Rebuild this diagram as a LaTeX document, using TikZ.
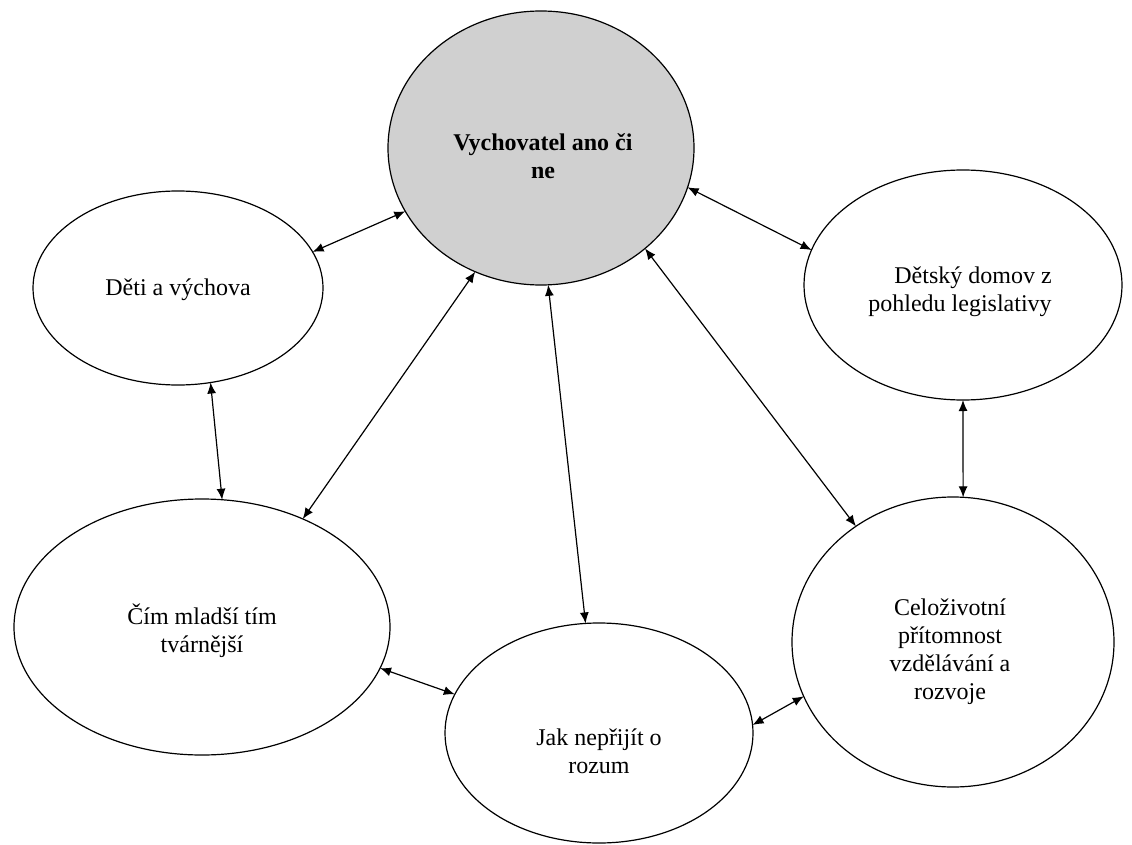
\documentclass[tikz,border=0pt]{standalone}
\usepackage{fontspec}
\setmainfont{Liberation Serif}
\usetikzlibrary{arrows.meta,shapes.geometric}
\definecolor{centralgray}{RGB}{208,208,208}
\tikzset{
  ell/.style={draw=black, line width=1.2pt, ellipse, inner sep=0pt, outer sep=0pt, fill=white},
  txt/.style={align=center, font=\fontsize{24}{28}\selectfont, inner sep=0pt},
  link/.style={{Latex[length=11pt,width=9pt]}-{Latex[length=11pt,width=9pt]}, line width=1.2pt, shorten <=0pt, shorten >=0pt}
}
\begin{document}
\begin{tikzpicture}[x=1pt,y=-1pt]
\useasboundingbox (0,0) rectangle (1132,845);
\fill[white] (0,0) rectangle (1132,845);
% ellipses
\node[ell, fill=centralgray, minimum width=306pt, minimum height=274pt] (central) at (541,148) {};
\node[ell, minimum width=290pt, minimum height=194pt] (deti) at (178,288) {};
\node[ell, minimum width=318pt, minimum height=230pt] (domov) at (963,285) {};
\node[ell, minimum width=376pt, minimum height=256pt] (cim) at (202,627) {};
\node[ell, minimum width=308pt, minimum height=220pt] (jak) at (599,733) {};
\node[ell, minimum width=322pt, minimum height=290pt] (celo) at (953,642) {};
% texts
\node[txt, font=\fontsize{24}{28}\selectfont\bfseries] (tcentral) at (543,156) {Vychovatel ano či\\ne};
\node[txt] (tdeti) at (178,290) {Děti a výchova};
\node[txt, align=right] (tdomov) at (960,292) {Dětský domov z\\pohledu legislativy};
\node[txt] (tcim) at (202,631) {Čím mladší tím\\tvárnější};
\node[txt] (tjak) at (599,751) {Jak nepřijít o\\rozum};
\node[txt] (tcelo) at (950,652) {Celoživotní\\přítomnost\\vzdělávání a\\rozvoje};
% connectors
\draw[link] (deti.15.8) -- (central.205.2);
\draw[link] (central.345.5) -- (domov.167.8);
\draw[link] (central.316.3) -- (celo.130.5);
\draw[link] (deti.289.5) -- (cim.81);
\draw[link] (central.242.5) -- (cim.47.3);
\draw[link] (central.273.7) -- (jak.97.2);
\draw[link] (domov.270) -- (celo.86);
\draw[link] (cim.347.5) -- (jak.165.4);
\draw[link] (jak.3.6) -- (celo.200.3);
\end{tikzpicture}
\end{document}
